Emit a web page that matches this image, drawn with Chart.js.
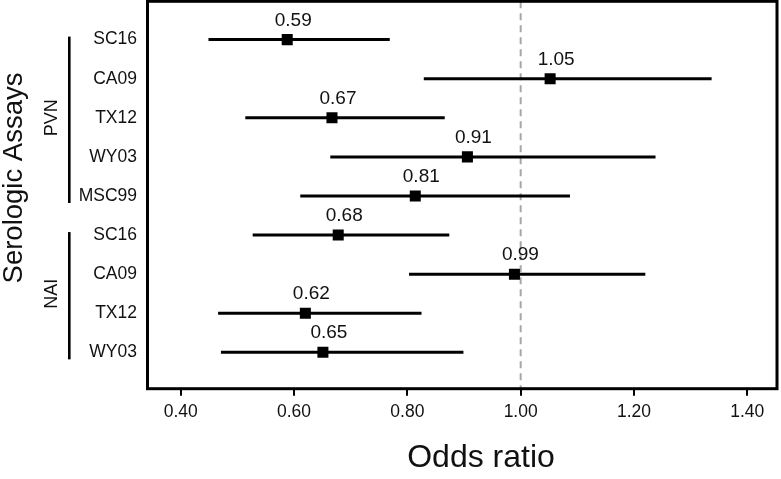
<!DOCTYPE html>
<html>
<head>
<meta charset="utf-8">
<script src="https://cdn.jsdelivr.net/npm/chart.js@4/dist/chart.umd.min.js"></script>
<style>
  html, body { margin: 0; padding: 0; background: #fff; }
  canvas { display: block; }
</style>
</head>
<body>
<canvas id="forest" width="781" height="479"></canvas>
<script>
/* ── data ── */
const rowLabels  = ['SC16', 'CA09', 'TX12', 'WY03', 'MSC99', 'SC16', 'CA09', 'TX12', 'WY03'];
const oddsRatio  = [0.588, 1.052, 0.667, 0.906, 0.814, 0.678, 0.989, 0.620, 0.651];
const ciLow      = [0.449, 0.829, 0.514, 0.664, 0.611, 0.527, 0.803, 0.466, 0.471];
const ciHigh     = [0.769, 1.337, 0.866, 1.238, 1.087, 0.874, 1.220, 0.825, 0.899];
const groupNames = ['PVN', 'NAI'];
const groupStart = [0, 5];
const groupEnd   = [4, 8];
const xTicks     = [0.40, 0.60, 0.80, 1.00, 1.20, 1.40];
const refValue   = 1.0;

const FONT = "'Liberation Sans', Arial, sans-serif";
const INK  = '#111';

Chart.defaults.font.family = FONT;
Chart.defaults.color = INK;

const yMin = -0.98, yMax = 8.93;

/* ── datasets ── */
const datasets = [];

// squares for the estimates (on top)
datasets.push({
  data: oddsRatio.map((v, i) => ({ x: v, y: i })),
  pointStyle: 'rect',
  pointRadius: 7.8,
  pointHoverRadius: 7.8,
  backgroundColor: '#000',
  borderWidth: 0,
  showLine: false,
  order: 0
});

// one horizontal segment per confidence interval
ciLow.forEach((lo, i) => {
  datasets.push({
    data: [{ x: lo, y: i }, { x: ciHigh[i], y: i }],
    showLine: true,
    borderColor: '#000',
    borderWidth: 3,
    borderCapStyle: 'butt',
    pointRadius: 0,
    pointHoverRadius: 0,
    order: 1
  });
});

// dashed reference line at OR = 1
datasets.push({
  data: [{ x: refValue, y: yMin }, { x: refValue, y: yMax }],
  showLine: true,
  borderColor: '#a6a6a6',
  borderWidth: 2,
  borderDash: [7, 5],
  pointRadius: 0,
  pointHoverRadius: 0,
  order: 2
});

/* ── frame, value labels, group brackets, titles ── */
const decorations = {
  id: 'decorations',
  afterDatasetsDraw(chart) {
    const { ctx, chartArea: a, scales: { x, y } } = chart;
    ctx.save();

    // full box round the panel
    ctx.strokeStyle = '#000';
    ctx.lineWidth = 3;
    ctx.strokeRect(a.left, a.top, a.right - a.left, a.bottom - a.top);

    // value labels above each square
    ctx.fillStyle = INK;
    ctx.font = `19px ${FONT}`;
    ctx.textAlign = 'center';
    ctx.textBaseline = 'alphabetic';
    oddsRatio.forEach((v, i) => {
      ctx.fillText(v.toFixed(2), x.getPixelForValue(v) + 6, y.getPixelForValue(i) - 14);
    });

    // group brackets and names
    groupNames.forEach((name, g) => {
      const top = y.getPixelForValue(groupStart[g]) - 3;
      const bot = y.getPixelForValue(groupEnd[g]) + 7;
      ctx.fillStyle = '#000';
      ctx.fillRect(68, top, 2.6, bot - top);

      const mid = y.getPixelForValue((groupStart[g] + groupEnd[g]) / 2);
      ctx.save();
      ctx.translate(52, mid);
      ctx.rotate(-Math.PI / 2);
      ctx.fillStyle = INK;
      ctx.font = `18px ${FONT}`;
      ctx.textAlign = 'center';
      ctx.textBaseline = 'middle';
      ctx.fillText(name, 0, 0);
      ctx.restore();
    });

    // y axis title
    ctx.save();
    ctx.translate(14, 178);
    ctx.rotate(-Math.PI / 2);
    ctx.fillStyle = INK;
    ctx.font = `27.5px ${FONT}`;
    ctx.textAlign = 'center';
    ctx.textBaseline = 'middle';
    ctx.fillText('Serologic Assays', 0, 0);
    ctx.restore();

    // x axis title
    ctx.fillStyle = INK;
    ctx.font = `32px ${FONT}`;
    ctx.textAlign = 'center';
    ctx.textBaseline = 'alphabetic';
    ctx.fillText('Odds ratio', 481, 467);

    ctx.restore();
  }
};

new Chart(document.getElementById('forest'), {
  type: 'scatter',
  data: { datasets },
  plugins: [decorations],
  options: {
    responsive: false,
    animation: false,
    devicePixelRatio: 1,
    layout: {
      autoPadding: false,   // point radius would otherwise push the panel in
      padding: { top: 1.3, right: 4, left: 0, bottom: 0 }
    },
    plugins: {
      legend: { display: false },
      tooltip: { enabled: false }
    },
    scales: {
      x: {
        type: 'linear',
        min: 0.3414,
        max: 1.4524,
        afterBuildTicks: s => { s.ticks = xTicks.map(v => ({ value: v })); },
        afterFit: s => {
          s.height = 90.3;
          s.paddingLeft = 0; s.paddingRight = 0;
        },
        ticks: {
          callback: v => Number(v).toFixed(2),
          font: { size: 17.5 },
          color: INK,
          padding: 6,
          maxRotation: 0,
          autoSkip: false
        },
        grid: {
          drawOnChartArea: false,
          drawTicks: true,
          tickLength: 7,
          lineWidth: 2,
          color: '#000'
        },
        border: { display: false }
      },
      y: {
        type: 'linear',
        reverse: true,
        min: yMin,
        max: yMax,
        afterBuildTicks: s => { s.ticks = rowLabels.map((_, i) => ({ value: i })); },
        afterFit: s => {
          s.width = 147.5;
          s.paddingTop = 0; s.paddingBottom = 0;
        },
        ticks: {
          callback: (v, idx) => rowLabels[idx],
          font: { size: 17.5 },
          color: INK,
          padding: 10.5,
          autoSkip: false
        },
        grid: { display: false, drawTicks: false },
        border: { display: false }
      }
    }
  }
});
</script>
</body>
</html>
